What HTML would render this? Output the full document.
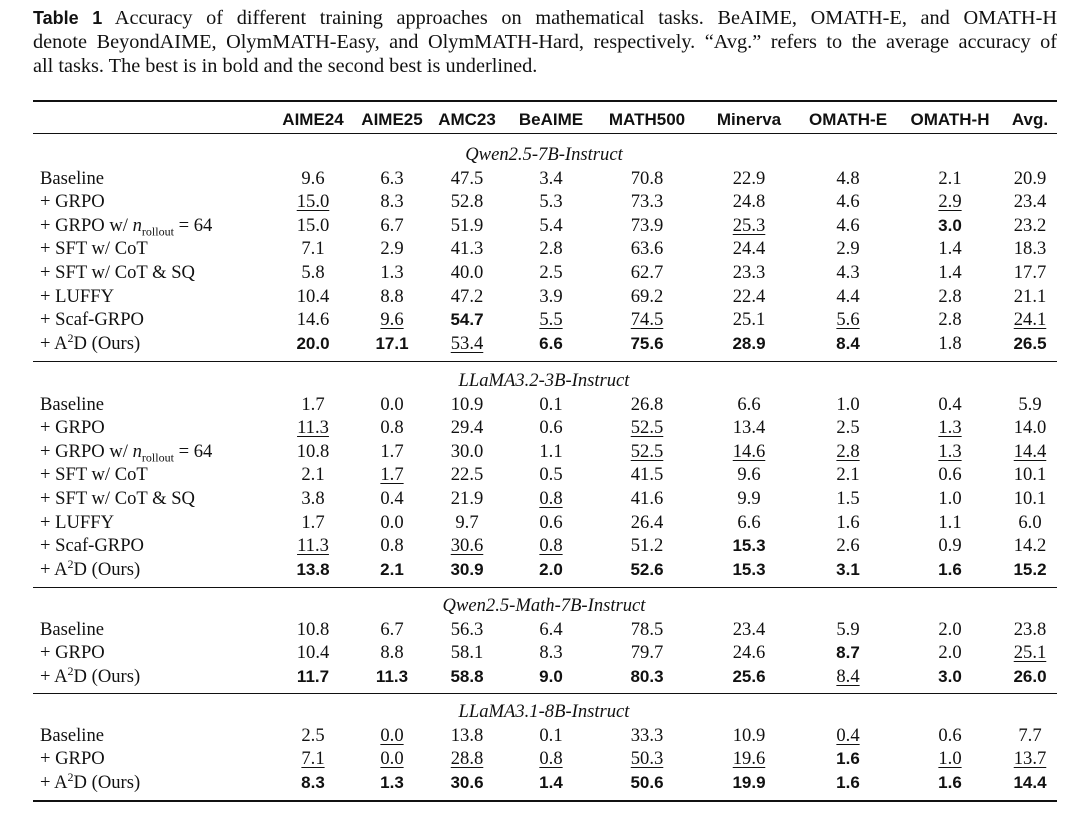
<!DOCTYPE html>
<html><head><meta charset="utf-8">
<style>
body{margin:0;width:1080px;height:816px;background:#fff;position:relative;overflow:hidden;color:#111}
.cap{position:absolute;left:33px;top:6px;width:1024px;font:20.3px/24px "Liberation Serif",serif}
.cap span{display:block;text-align:justify;text-align-last:justify;white-space:nowrap}
.cap span.last{text-align-last:left}
.cap b{font-family:"Liberation Sans",sans-serif;font-weight:bold;font-size:18px}
.rule{position:absolute;left:33px;width:1024px;background:#111}
.t{position:absolute;white-space:nowrap;font:18.6px/20px "Liberation Serif",serif;transform:translate(-50%,-50%)}
.l{position:absolute;white-space:nowrap;font:18.6px/20px "Liberation Serif",serif;transform:translateY(-50%);left:40px}
.l sub,.l sup{font-size:12px;line-height:0}
.h{font:bold 17px "Liberation Sans",sans-serif}
.bd{font:bold 17px "Liberation Sans",sans-serif}
.u{text-decoration:underline;text-underline-offset:3px;text-decoration-thickness:1px}
.sec{font-style:italic}
</style></head><body>
<div class="cap"><span style="white-space:normal"><b>Table 1</b> Accuracy of different training approaches on mathematical tasks. BeAIME, OMATH-E, and OMATH-H</span><span style="white-space:normal">denote BeyondAIME, OlymMATH-Easy, and OlymMATH-Hard, respectively. “Avg.” refers to the average accuracy of</span><span class="last">all tasks. The best is in bold and the second best is underlined.</span></div>
<div id="tbl"></div>
<script>
const headers=["AIME24","AIME25","AMC23","BeAIME","MATH500","Minerva","OMATH-E","OMATH-H","Avg."];
const colX=[313,392,467,551,647,749,848,950,1030];
const labels6=["Baseline","+ GRPO","+ GRPO w/ <i>n</i><sub>rollout</sub> = 64","+ SFT w/ CoT","+ SFT w/ CoT &amp; SQ","+ LUFFY","+ Scaf-GRPO","+ A<sup>2</sup>D (Ours)"];
const labels3=["Baseline","+ GRPO","+ A<sup>2</sup>D (Ours)"];
const sections=[
{title:"Qwen2.5-7B-Instruct",y:155,labels:labels6,rows:[
"9.6 6.3 47.5 3.4 70.8 22.9 4.8 2.1 20.9",
"_15.0 8.3 52.8 5.3 73.3 24.8 4.6 _2.9 23.4",
"15.0 6.7 51.9 5.4 73.9 _25.3 4.6 *3.0 23.2",
"7.1 2.9 41.3 2.8 63.6 24.4 2.9 1.4 18.3",
"5.8 1.3 40.0 2.5 62.7 23.3 4.3 1.4 17.7",
"10.4 8.8 47.2 3.9 69.2 22.4 4.4 2.8 21.1",
"14.6 _9.6 *54.7 _5.5 _74.5 25.1 _5.6 2.8 _24.1",
"*20.0 *17.1 _53.4 *6.6 *75.6 *28.9 *8.4 1.8 *26.5"]},
{title:"LLaMA3.2-3B-Instruct",y:381,labels:labels6,rows:[
"1.7 0.0 10.9 0.1 26.8 6.6 1.0 0.4 5.9",
"_11.3 0.8 29.4 0.6 _52.5 13.4 2.5 _1.3 14.0",
"10.8 1.7 30.0 1.1 _52.5 _14.6 _2.8 _1.3 _14.4",
"2.1 _1.7 22.5 0.5 41.5 9.6 2.1 0.6 10.1",
"3.8 0.4 21.9 _0.8 41.6 9.9 1.5 1.0 10.1",
"1.7 0.0 9.7 0.6 26.4 6.6 1.6 1.1 6.0",
"_11.3 0.8 _30.6 _0.8 51.2 *15.3 2.6 0.9 14.2",
"*13.8 *2.1 *30.9 *2.0 *52.6 *15.3 *3.1 *1.6 *15.2"]},
{title:"Qwen2.5-Math-7B-Instruct",y:606,labels:labels3,rows:[
"10.8 6.7 56.3 6.4 78.5 23.4 5.9 2.0 23.8",
"10.4 8.8 58.1 8.3 79.7 24.6 *8.7 2.0 _25.1",
"*11.7 *11.3 *58.8 *9.0 *80.3 *25.6 _8.4 *3.0 *26.0"]},
{title:"LLaMA3.1-8B-Instruct",y:712,labels:labels3,rows:[
"2.5 _0.0 13.8 0.1 33.3 10.9 _0.4 0.6 7.7",
"_7.1 _0.0 _28.8 _0.8 _50.3 _19.6 *1.6 _1.0 _13.7",
"*8.3 *1.3 *30.6 *1.4 *50.6 *19.9 *1.6 *1.6 *14.4"]}];
const rowH=23.6;
const ruleYs=[[100,2],[133,1],[361,1],[587,1],[693,1],[800,2]];
const root=document.getElementById('tbl');
function add(cls,html,x,y){const d=document.createElement('div');d.className=cls;d.innerHTML=html;if(x!=null)d.style.left=x+'px';d.style.top=y+'px';root.appendChild(d);return d;}
ruleYs.forEach(r=>{const d=document.createElement('div');d.className='rule';d.style.top=r[0]+'px';d.style.height=r[1]+'px';


root.appendChild(d);});
headers.forEach((h,i)=>{const d=add('t h',h,colX[i],120);

});
sections.forEach(s=>{
 const t=add('t sec',s.title,544,s.y);
 
 
 s.rows.forEach((r,ri)=>{
  const y=s.y+rowH*(ri+1);
  const l=add('l',s.labels[ri],null,y);
  
  
  r.split(' ').forEach((v,ci)=>{
   let cls='t',txt=v;
   if(v[0]=='*'){cls+=' bd';txt=v.slice(1);}
   else if(v[0]=='_'){cls+=' u';txt=v.slice(1);}
   const c=add(cls,txt,colX[ci],y);
   
   
  });
 });
});
</script>
</body></html>
